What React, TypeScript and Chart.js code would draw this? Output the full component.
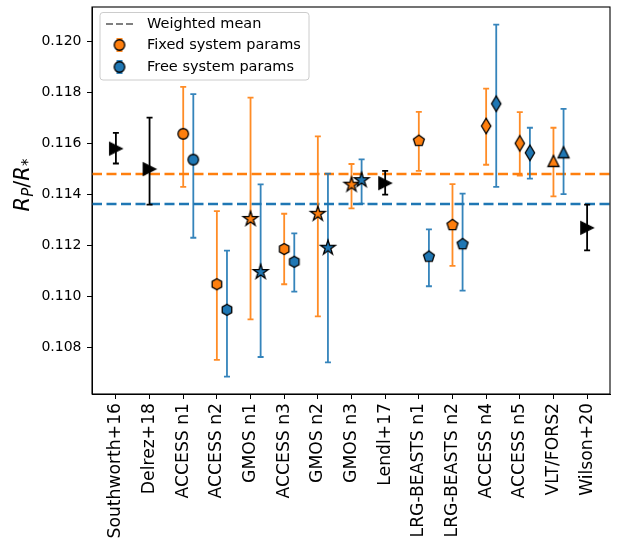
import React, { useEffect, useRef } from "react";
import { Chart, registerables } from "chart.js";
Chart.register(...registerables);

const categories = [
  "Southworth+16", "Delrez+18", "ACCESS n1", "ACCESS n2", "GMOS n1", "ACCESS n3",
  "GMOS n2", "GMOS n3", "Lendl+17", "LRG-BEASTS n1", "LRG-BEASTS n2", "ACCESS n4",
  "ACCESS n5", "VLT/FORS2", "Wilson+20",
];

// literature values (black)
const litIndex = [0, 1, 8, 14];
const litValue = [0.1158, 0.1150, 0.11445, 0.1127];
const litLow = [0.11522, 0.11361, 0.1140, 0.11182];
const litHigh = [0.11642, 0.11702, 0.11493, 0.11361];

// observations
const obsIndex = [2, 3, 4, 5, 6, 7, 9, 10, 11, 12, 13];
const obsMarker = ["circle", "hexagon", "star", "hexagon", "star", "star", "pentagon", "pentagon", "thinDiamond", "thinDiamond", "triangle"];
const fixedValue = [0.11638, 0.11049, 0.11305, 0.11187, 0.11325, 0.11439, 0.11611, 0.11281, 0.11669, 0.11601, 0.11532];
const fixedLow = [0.1143, 0.10753, 0.10911, 0.11049, 0.10923, 0.11346, 0.11493, 0.11121, 0.11517, 0.11475, 0.11393];
const fixedHigh = [0.11822, 0.11335, 0.1178, 0.11325, 0.11628, 0.1152, 0.11724, 0.11441, 0.11815, 0.11723, 0.11662];
const freeValue = [0.11537, 0.10949, 0.11097, 0.11137, 0.11192, 0.11457, 0.11157, 0.11206, 0.11756, 0.11564, 0.11566];
const freeLow = [0.11231, 0.10687, 0.10764, 0.1102, 0.10743, 0.11365, 0.11041, 0.11024, 0.1143, 0.11463, 0.11402];
const freeHigh = [0.11794, 0.11181, 0.1144, 0.11248, 0.11482, 0.11538, 0.11264, 0.11404, 0.12066, 0.11662, 0.11736];
const freeOffset = 0.3;

const weightedMeanFixed = 0.11481;
const weightedMeanFree = 0.11363;

const yTicks = [0.108, 0.11, 0.112, 0.114, 0.116, 0.118, 0.12];
const yMin = 0.10619;
const yMax = 0.12135;
const xMin = -0.71;
const xMax = 14.68;

const ORANGE = "#ff7f0e";
const BLUE = "#1f77b4";
const ORANGE_ERR = "rgba(255,127,14,0.9)";
const BLUE_ERR = "rgba(31,119,180,0.9)";
const FONT = "'DejaVu Sans', sans-serif";

const markerSize: Record<string, number> = {
  circle: 10.5, hexagon: 11, pentagon: 11.5, star: 15.5, thinDiamond: 11, triangle: 11, triangleRight: 12.5,
};

function makeMarker(shape: string, fill: string, edge: string, lw: number): HTMLCanvasElement {
  const size = markerSize[shape];
  const dim = 2 * Math.ceil(size * 0.75 + lw + 2);
  const c = document.createElement("canvas");
  c.width = dim;
  c.height = dim;
  const ctx = c.getContext("2d")!;
  ctx.translate(dim / 2, dim / 2);
  const r = size / 2;
  ctx.beginPath();
  const poly = (n: number, rad: number) => {
    for (let k = 0; k < n; k++) {
      const a = -Math.PI / 2 + (k * 2 * Math.PI) / n;
      const px = Math.cos(a) * rad, py = Math.sin(a) * rad;
      if (k === 0) ctx.moveTo(px, py); else ctx.lineTo(px, py);
    }
    ctx.closePath();
  };
  switch (shape) {
    case "circle":
      ctx.arc(0, 0, r, 0, Math.PI * 2);
      break;
    case "triangle":
      ctx.moveTo(0, -r); ctx.lineTo(r, r); ctx.lineTo(-r, r); ctx.closePath();
      break;
    case "triangleRight":
      ctx.moveTo(r, 0); ctx.lineTo(-r, r); ctx.lineTo(-r, -r); ctx.closePath();
      break;
    case "hexagon":
      poly(6, r);
      break;
    case "pentagon":
      poly(5, r);
      break;
    case "star": {
      const inner = r * 0.381966;
      for (let k = 0; k < 10; k++) {
        const a = -Math.PI / 2 + (k * Math.PI) / 5;
        const rr = k % 2 === 0 ? r : inner;
        const px = Math.cos(a) * rr, py = Math.sin(a) * rr;
        if (k === 0) ctx.moveTo(px, py); else ctx.lineTo(px, py);
      }
      ctx.closePath();
      break;
    }
    case "thinDiamond": {
      const hd = r * Math.SQRT2;
      ctx.moveTo(0, -hd); ctx.lineTo(hd * 0.6, 0); ctx.lineTo(0, hd); ctx.lineTo(-hd * 0.6, 0); ctx.closePath();
      break;
    }
  }
  ctx.fillStyle = fill;
  ctx.fill();
  ctx.lineWidth = lw;
  ctx.strokeStyle = edge;
  ctx.lineJoin = "miter";
  ctx.stroke();
  return c;
}

function drawErrorBar(ctx: CanvasRenderingContext2D, x: number, yTop: number, yBot: number, color: string, cap: number, lw: number) {
  ctx.save();
  ctx.strokeStyle = color;
  ctx.lineWidth = lw;
  ctx.lineCap = "butt";
  ctx.beginPath();
  ctx.moveTo(x, yTop); ctx.lineTo(x, yBot);
  ctx.moveTo(x - cap, yTop); ctx.lineTo(x + cap, yTop);
  ctx.moveTo(x - cap, yBot); ctx.lineTo(x + cap, yBot);
  ctx.stroke();
  ctx.restore();
}

const errorBarPlugin = {
  id: "errorBars",
  beforeDatasetDraw(chart: any, args: any) {
    const ds = chart.data.datasets[args.index];
    if (!ds.errorColor) return;
    const { ctx, scales } = chart;
    ctx.save();
    ctx.beginPath();
    ctx.rect(chart.chartArea.left, chart.chartArea.top, chart.chartArea.right - chart.chartArea.left, chart.chartArea.bottom - chart.chartArea.top);
    ctx.clip();
    ds.data.forEach((d: any) => {
      const x = scales.x.getPixelForValue(d.x);
      drawErrorBar(ctx, x, scales.y.getPixelForValue(d.yMax), scales.y.getPixelForValue(d.yMin), ds.errorColor, 3, 1.8);
    });
    ctx.restore();
  },
};

const legendMarkers: { orange?: HTMLCanvasElement; blue?: HTMLCanvasElement } = {};

const decorPlugin = {
  id: "decor",
  afterDraw(chart: any) {
    const { ctx, chartArea } = chart;
    // axes frame
    ctx.save();
    ctx.strokeStyle = "#000";
    ctx.lineWidth = 1.1;
    ctx.strokeRect(chartArea.left, chartArea.top, chartArea.right - chartArea.left, chartArea.bottom - chartArea.top);
    ctx.restore();

    // y title: R_P / R_*
    ctx.save();
    ctx.translate(29, 185);
    ctx.rotate(-Math.PI / 2);
    ctx.fillStyle = "#000";
    ctx.textBaseline = "alphabetic";
    ctx.textAlign = "left";
    const big = `oblique 21px ${FONT}`;
    const small = `oblique 15px ${FONT}`;
    const pieces: [string, string, number][] = [
      ["R", big, 0], ["P", small, 3.5], ["/", `21px ${FONT}`, 0], ["R", big, 0], ["*", `15px ${FONT}`, 3.5],
    ];
    let total = 0;
    pieces.forEach(([t, f]) => { ctx.font = f; total += ctx.measureText(t).width; });
    let cx = -total / 2;
    pieces.forEach(([t, f, dy]) => {
      ctx.font = f;
      ctx.fillText(t, cx, dy);
      cx += ctx.measureText(t).width;
    });
    ctx.restore();

    // legend
    ctx.save();
    const bx = 100, by = 12.5, bw = 209, bh = 67.5, rad = 3;
    ctx.beginPath();
    ctx.moveTo(bx + rad, by);
    ctx.arcTo(bx + bw, by, bx + bw, by + bh, rad);
    ctx.arcTo(bx + bw, by + bh, bx, by + bh, rad);
    ctx.arcTo(bx, by + bh, bx, by, rad);
    ctx.arcTo(bx, by, bx + bw, by, rad);
    ctx.closePath();
    ctx.fillStyle = "rgba(255,255,255,0.8)";
    ctx.fill();
    ctx.strokeStyle = "#cccccc";
    ctx.lineWidth = 1;
    ctx.stroke();

    const rows = [24, 45, 67];
    ctx.strokeStyle = "#808080";
    ctx.lineWidth = 2;
    ctx.setLineDash([7, 3]);
    ctx.beginPath();
    ctx.moveTo(106, rows[0]);
    ctx.lineTo(135, rows[0]);
    ctx.stroke();
    ctx.setLineDash([]);
    drawErrorBar(ctx, 119.5, rows[1] - 6, rows[1] + 6, ORANGE_ERR, 3, 1.8);
    drawErrorBar(ctx, 119.5, rows[2] - 6, rows[2] + 6, BLUE_ERR, 3, 1.8);
    const mo = legendMarkers.orange!, mb = legendMarkers.blue!;
    ctx.drawImage(mo, 119.5 - mo.width / 2, rows[1] - mo.height / 2);
    ctx.drawImage(mb, 119.5 - mb.width / 2, rows[2] - mb.height / 2);
    ctx.fillStyle = "#000";
    ctx.font = `14.5px ${FONT}`;
    ctx.textBaseline = "middle";
    ctx.fillText("Weighted mean", 147, rows[0]);
    ctx.fillText("Fixed system params", 147, rows[1]);
    ctx.fillText("Free system params", 147, rows[2]);
    ctx.restore();
  },
};

export default function App() {
  const ref = useRef<HTMLCanvasElement>(null);
  useEffect(() => {
    if (!ref.current) return;
    legendMarkers.orange = makeMarker("circle", ORANGE, "#000", 1.3);
    legendMarkers.blue = makeMarker("circle", BLUE, "#000", 1.3);
    const fixedStyles = obsMarker.map((m) => makeMarker(m, ORANGE, "#000", 1.3));
    const freeStyles = obsMarker.map((m) => makeMarker(m, BLUE, "#000", 1.3));
    const litStyle = makeMarker("triangleRight", "#000", "#000", 1.3);

    const chart = new Chart(ref.current, {
      type: "scatter",
      data: {
        datasets: [
          {
            data: [{ x: xMin, y: weightedMeanFixed }, { x: xMax, y: weightedMeanFixed }],
            showLine: true, borderColor: ORANGE, borderWidth: 2.4, borderDash: [10, 4.5],
            borderCapStyle: "butt", pointRadius: 0, order: 10,
          } as any,
          {
            data: [{ x: xMin, y: weightedMeanFree }, { x: xMax, y: weightedMeanFree }],
            showLine: true, borderColor: BLUE, borderWidth: 2.4, borderDash: [10, 4.5],
            borderCapStyle: "butt", pointRadius: 0, order: 9,
          } as any,
          {
            data: obsIndex.map((c, i) => ({ x: c, y: fixedValue[i], yMin: fixedLow[i], yMax: fixedHigh[i] })),
            pointStyle: fixedStyles, pointRadius: 6, errorColor: ORANGE_ERR, order: 3,
          } as any,
          {
            data: obsIndex.map((c, i) => ({ x: c + freeOffset, y: freeValue[i], yMin: freeLow[i], yMax: freeHigh[i] })),
            pointStyle: freeStyles, pointRadius: 6, errorColor: BLUE_ERR, order: 2,
          } as any,
          {
            data: litIndex.map((c, i) => ({ x: c, y: litValue[i], yMin: litLow[i], yMax: litHigh[i] })),
            pointStyle: litStyle, pointRadius: 6, errorColor: "#000", order: 1,
          } as any,
        ],
      },
      options: {
        animation: false,
        responsive: true,
        maintainAspectRatio: false,
        devicePixelRatio: 1,
        layout: { padding: { top: 4, right: 5, left: 0, bottom: 0 } },
        plugins: { legend: { display: false }, tooltip: { enabled: false } },
        scales: {
          x: {
            type: "linear",
            min: xMin,
            max: xMax,
            afterBuildTicks: (s: any) => { s.ticks = categories.map((_, i) => ({ value: i })); },
            afterFit: (s: any) => { s.height = 150; s.paddingLeft = 0; s.paddingRight = 0; },
            ticks: {
              autoSkip: false,
              minRotation: 90,
              maxRotation: 90,
              padding: 4,
              color: "#000",
              font: { family: FONT, size: 17.2 },
              callback: (v: any) => categories[Math.round(v)],
            },
            grid: { drawOnChartArea: false, tickLength: 5, tickColor: "#000", tickWidth: 1 },
            border: { display: true, color: "#000", width: 1 },
          },
          y: {
            type: "linear",
            min: yMin,
            max: yMax,
            afterBuildTicks: (s: any) => { s.ticks = yTicks.map((v) => ({ value: v })); },
            afterFit: (s: any) => { s.width = 92; s.paddingTop = 0; s.paddingBottom = 0; },
            ticks: {
              padding: 5.5,
              color: "#000",
              font: { family: FONT, size: 14 },
              callback: (v: any) => Number(v).toFixed(3),
            },
            grid: { drawOnChartArea: false, tickLength: 5, tickColor: "#000", tickWidth: 1 },
            border: { display: true, color: "#000", width: 1 },
          },
        },
      } as any,
      plugins: [errorBarPlugin, decorPlugin],
    });
    return () => chart.destroy();
  }, []);

  return (
    <div style={{ position: "absolute", left: 0, top: 0, width: 617, height: 544, background: "#fff" }}>
      <canvas ref={ref} />
    </div>
  );
}
